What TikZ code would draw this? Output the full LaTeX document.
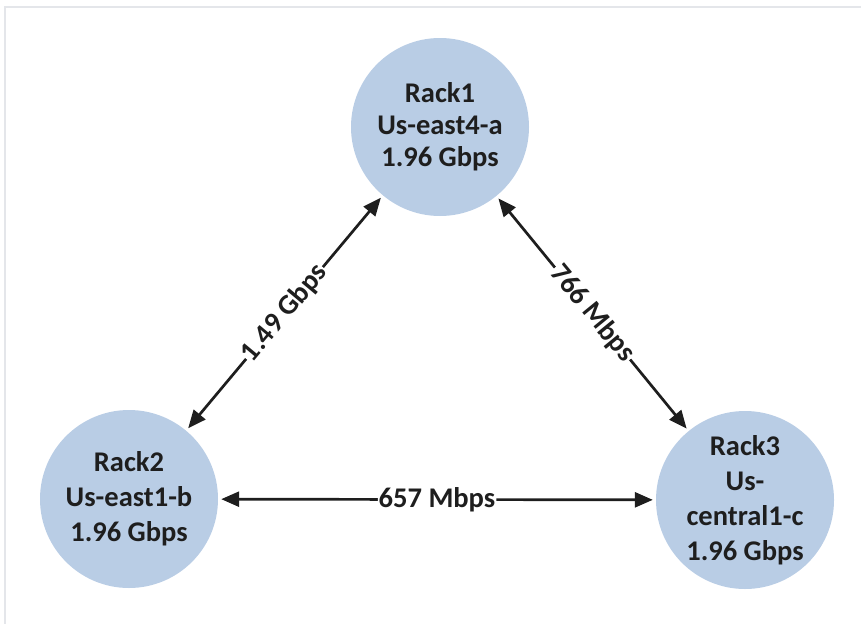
\documentclass[tikz,border=0pt]{standalone}
\usepackage{fontspec}
\setmainfont{Carlito}
\usetikzlibrary{arrows.meta}
\definecolor{rackfill}{HTML}{B9CDE5}
\definecolor{inktext}{HTML}{1E1E1E}
\definecolor{frameline}{HTML}{E4E6EA}
\begin{document}
\begin{tikzpicture}[x=1pt,y=-1pt,
  rack/.style={circle, fill=rackfill, minimum size=178pt, inner sep=0pt,
    align=center, text=inktext,
    font=\fontsize{28.5}{35}\selectfont\bfseries},
  link/.style={line width=2.7pt, draw=inktext, shorten <=3pt, shorten >=3pt,
    {Triangle[length=18pt,width=15pt]}-{Triangle[length=18pt,width=15pt]}},
  rate/.style={sloped, fill=white, inner sep=1pt, text=inktext,
    font=\fontsize{28.5}{30}\selectfont\bfseries}]
  \useasboundingbox (0,0) rectangle (861,624);
  % light page frame along the top and left
  \draw[frameline, line width=1.2pt] (5,624) -- (5,7) -- (861,7);

  \node[rack, font=\fontsize{28.5}{32}\selectfont\bfseries] (r1) at (440,127) {Rack1\\Us-east4-a\\1.96 Gbps};
  \node[rack] (r2) at (129,499) {Rack2\\Us-east1-b\\1.96 Gbps};
  \node[rack] (r3) at (745,500) {Rack3\\Us-\\central1-c\\1.96 Gbps};

  \draw[link] (r2) -- node[rate] {1.49 Gbps} (r1);
  \draw[link] (r1) -- node[rate] {766 Mbps} (r3);
  \draw[link] (r2) -- node[rate] {657 Mbps} (r3);
\end{tikzpicture}
\end{document}
